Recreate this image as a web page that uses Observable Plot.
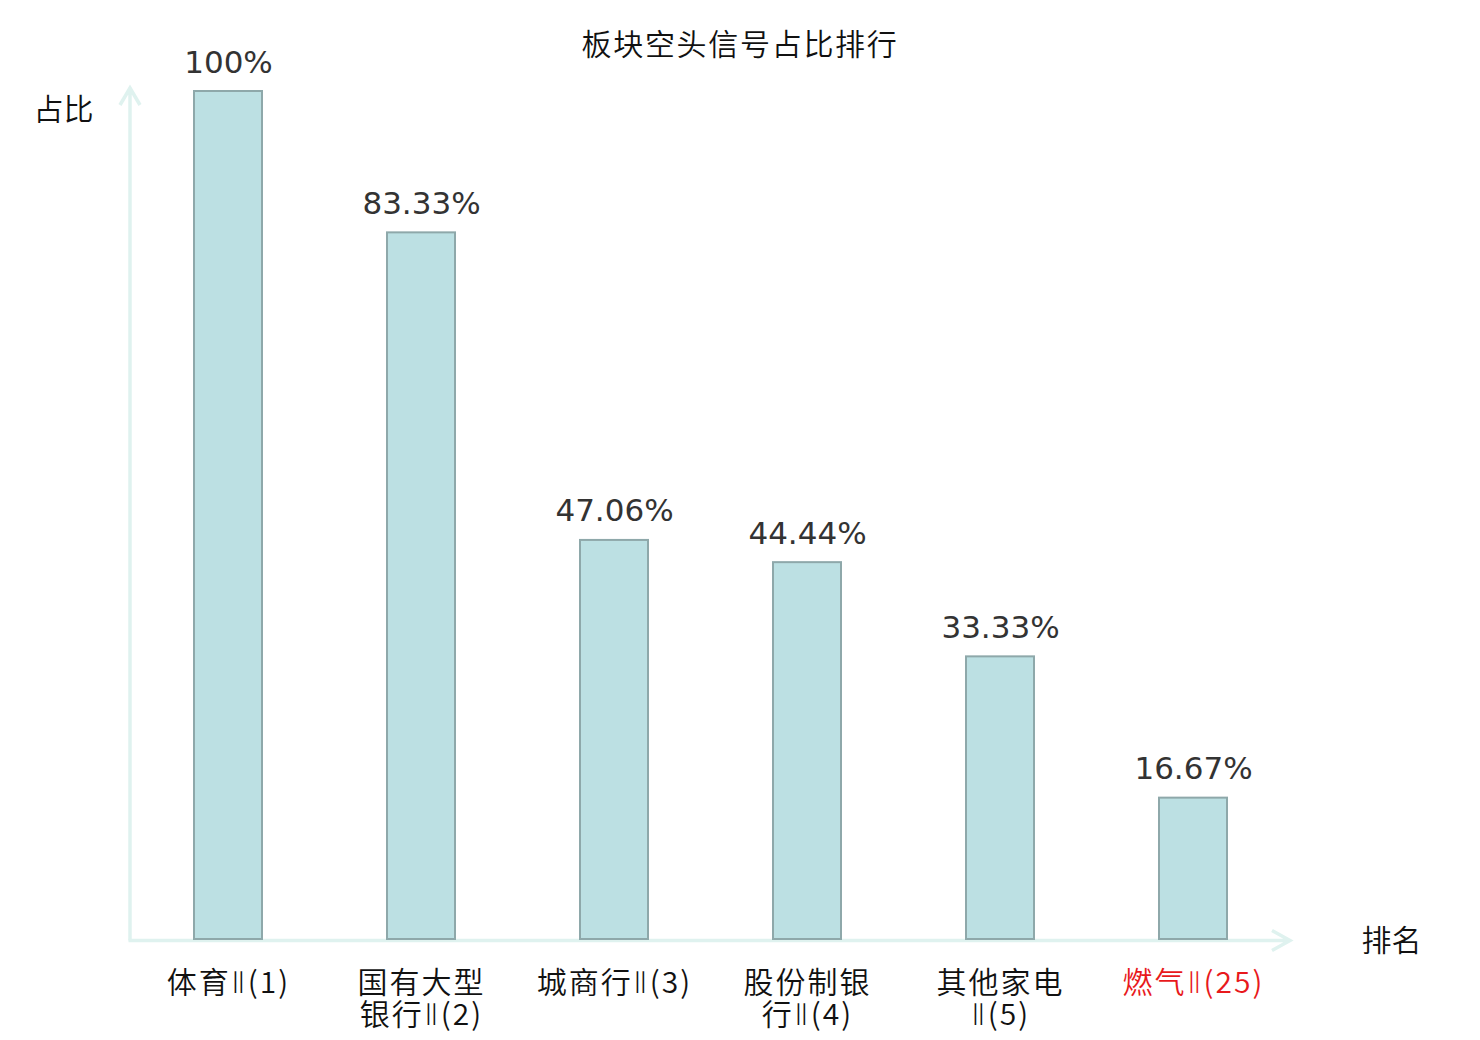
<!DOCTYPE html>
<html>
<head>
<meta charset="utf-8">
<script src="https://cdn.jsdelivr.net/npm/d3@7"></script>
<script src="https://cdn.jsdelivr.net/npm/@observablehq/plot@0.6"></script>
<style>
  @font-face { font-family: "RomanNum"; src: local("DejaVu Sans ExtraLight"), local("DejaVuSans-ExtraLight"); unicode-range: U+2160-216F; }
  html, body { margin: 0; padding: 0; background: #fff; }
  #wrap { position: relative; width: 1480px; height: 1040px; }
  #title { position: absolute; left: 0; top: 22px; width: 1480px; text-align: center;
    font-family: "Noto Sans CJK SC", "DejaVu Sans", sans-serif; font-size: 30px; letter-spacing: 1.7px;
    font-weight: 350; color: #111; line-height: 40px; }
  svg { overflow: visible; }
</style>
</head>
<body>
<div id="wrap">
  <div id="title">板块空头信号占比排行</div>
  <div id="chart"></div>
</div>
<script>
const categories = ["体育Ⅱ(1)", "国有大型\n银行Ⅱ(2)", "城商行Ⅱ(3)", "股份制银\n行Ⅱ(4)", "其他家电\nⅡ(5)", "燃气Ⅱ(25)"];
const values = [100, 83.33, 47.06, 44.44, 33.33, 16.67];
const valueLabels = ["100%", "83.33%", "47.06%", "44.44%", "33.33%", "16.67%"];
const labelColors = ["#111", "#111", "#111", "#111", "#111", "#e8191c"];
const yAxisLabel = "占比";
const xAxisLabel = "排名";

const data = categories.map((c, i) => ({cat: c, value: values[i], label: valueLabels[i], color: labelColors[i]}));

const axisColor = "#dff2ef";
const cjkFont = "RomanNum, \"Noto Sans CJK SC\", sans-serif";

function axesArrows(index, scales, values, dims) {
  const g = d3.create("svg:g");
  const x0 = dims.marginLeft;
  const x1 = dims.width - dims.marginRight;
  const yb = dims.height - dims.marginBottom;
  const yt = dims.marginTop - 3;
  g.append("path")
    .attr("d", `M${x0},${yb + 1.5}V${yt}M${x0 - 10},${yt + 17}L${x0},${yt}L${x0 + 10},${yt + 17}`)
    .attr("fill", "none").attr("stroke", axisColor).attr("stroke-width", 3.5);
  g.append("path")
    .attr("d", `M${x0 - 1.5},${yb + 1.5}H${x1}M${x1 - 18},${yb - 8.5}L${x1},${yb + 1.5}L${x1 - 18},${yb + 11.5}`)
    .attr("fill", "none").attr("stroke", axisColor).attr("stroke-width", 3.5);
  return g.node();
}

const chart = Plot.plot({
  width: 1480,
  height: 1040,
  marginLeft: 130,
  marginRight: 190,
  marginTop: 91,
  marginBottom: 101,
  style: {fontFamily: "\"DejaVu Sans\", \"Noto Sans CJK SC\", sans-serif", background: "#fff"},
  x: {domain: categories, paddingInner: 0.65, paddingOuter: 0.325, axis: null},
  y: {domain: [0, 100], axis: null},
  marks: [
    axesArrows,
    Plot.barY(data, {x: "cat", y: "value", fill: "#bce0e3", stroke: "#8ea8aa", strokeWidth: 2}),
    Plot.text(data, {x: "cat", y: "value", text: "label", lineAnchor: "bottom", dy: -19, fontSize: 31, fill: "#333"}),
    Plot.text(data, {x: "cat", text: "cat", frameAnchor: "bottom", lineAnchor: "top", dy: 31, fontSize: 30,
      lineHeight: 1.07, fill: "color", fontFamily: cjkFont, fontWeight: 350}),
    Plot.text([yAxisLabel], {frameAnchor: "top-left", lineAnchor: "middle", text: d => d, textAnchor: "end", dx: -37, dy: 19,
      fontSize: 30, fill: "#111", fontFamily: cjkFont, fontWeight: 350}),
    Plot.text([xAxisLabel], {frameAnchor: "bottom-right", lineAnchor: "middle", text: d => d, textAnchor: "end", dx: 131, dy: 2,
      fontSize: 30, fill: "#111", fontFamily: cjkFont, fontWeight: 350})
  ]
});
// widen spacing of the category labels (second text mark)
const textGroups = chart.querySelectorAll('g[aria-label="text"]');
if (textGroups[1]) textGroups[1].setAttribute("letter-spacing", "2");
document.getElementById("chart").appendChild(chart);
</script>
</body>
</html>
